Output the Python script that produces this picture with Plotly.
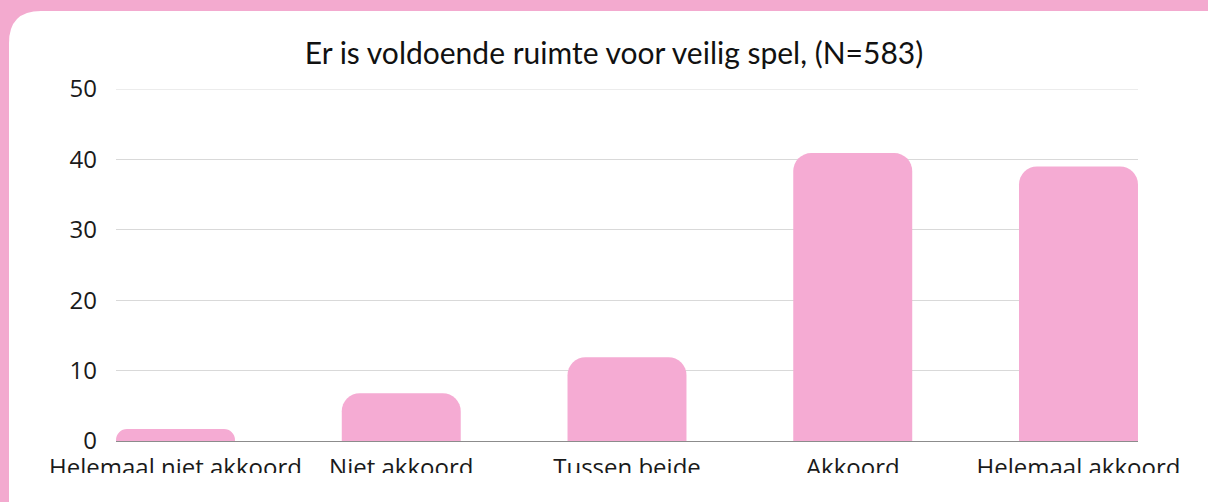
import plotly.graph_objects as go

categories = ["Helemaal niet akkoord", "Niet akkoord", "Tussen beide", "Akkoord", "Helemaal akkoord"]
values = [1.7, 6.8, 11.9, 40.9, 39.0]
y_ticks = [0, 10, 20, 30, 40, 50]
title = "Er is voldoende ruimte voor veilig spel, (N=583)"

PINK = "#F5ABD3"
BG_PINK = "#F3AACF"

W, H = 1208, 502
ML, MR, MT, MB = 116, 70, 89, 61
PW, PH = W - ML - MR, H - MT - MB


def px(x):
    return (x - ML) / PW


def py(y):
    return (H - MB - y) / PH


def rounded_rect(x0, y0, x1, y1, r):
    # path in paper coords, built from pixel positions
    pts = [
        f"M {px(x0 + r)} {py(y0)}",
        f"L {px(x1 - r)} {py(y0)}",
        f"Q {px(x1)} {py(y0)} {px(x1)} {py(y0 + r)}",
        f"L {px(x1)} {py(y1 - r)}",
        f"Q {px(x1)} {py(y1)} {px(x1 - r)} {py(y1)}",
        f"L {px(x0 + r)} {py(y1)}",
        f"Q {px(x0)} {py(y1)} {px(x0)} {py(y1 - r)}",
        f"L {px(x0)} {py(y0 + r)}",
        f"Q {px(x0)} {py(y0)} {px(x0 + r)} {py(y0)}",
        "Z",
    ]
    return " ".join(pts)


fig = go.Figure()
fig.add_trace(
    go.Bar(
        x=list(range(len(categories))),
        y=values,
        marker_color=PINK,
        marker_line_width=0,
        marker_cornerradius=18,
        width=0.527,
        hoverinfo="skip",
    )
)

fig.update_layout(
    width=W,
    height=H,
    margin=dict(l=ML, r=MR, t=MT, b=MB),
    paper_bgcolor=BG_PINK,
    plot_bgcolor="rgba(0,0,0,0)",
    showlegend=False,
    font=dict(family="Open Sans, sans-serif", color="#1a1a1a"),
    title=dict(
        text=title,
        x=614 / W,
        xref="container",
        xanchor="center",
        y=1 - 53 / H,
        yanchor="middle",
        font=dict(family="Lato, sans-serif", size=30, color="#111111"),
    ),
    shapes=[
        dict(
            type="path",
            xref="paper",
            yref="paper",
            path=rounded_rect(9, 11, 1240, 540, 32),
            fillcolor="white",
            line_width=0,
            layer="below",
        ),
        # top gridline sits on the range edge, so draw it explicitly
        dict(
            type="line",
            xref="paper",
            yref="y",
            x0=0,
            x1=1,
            y0=y_ticks[-1],
            y1=y_ticks[-1],
            line=dict(color="#d9d9d9", width=1),
            layer="below",
        ),
        # the reference crops the category labels at the bottom
        dict(
            type="rect",
            xref="paper",
            yref="paper",
            x0=px(30),
            x1=px(1200),
            y0=py(473),
            y1=py(510),
            fillcolor="white",
            line_width=0,
            layer="above",
        ),
    ],
)

fig.update_xaxes(
    range=[-0.2636, len(categories) - 1 + 0.2636],
    tickvals=list(range(len(categories))),
    ticktext=categories,
    tickfont=dict(size=24, color="#1a1a1a"),
    showgrid=False,
    showline=True,
    linecolor="#8c8c8c",
    linewidth=1,
    ticks="",
    ticklabelstandoff=5,
    zeroline=False,
)
fig.update_yaxes(
    range=[0, 50],
    tickvals=y_ticks,
    tickfont=dict(size=24, color="#1a1a1a"),
    showgrid=True,
    gridcolor="#d9d9d9",
    gridwidth=1,
    zeroline=False,
    ticks="",
    ticklabelstandoff=18,
)

fig.write_html(
    "out.html",
    config={"displayModeBar": False},
    post_script="document.body.style.margin = '0';",
)
